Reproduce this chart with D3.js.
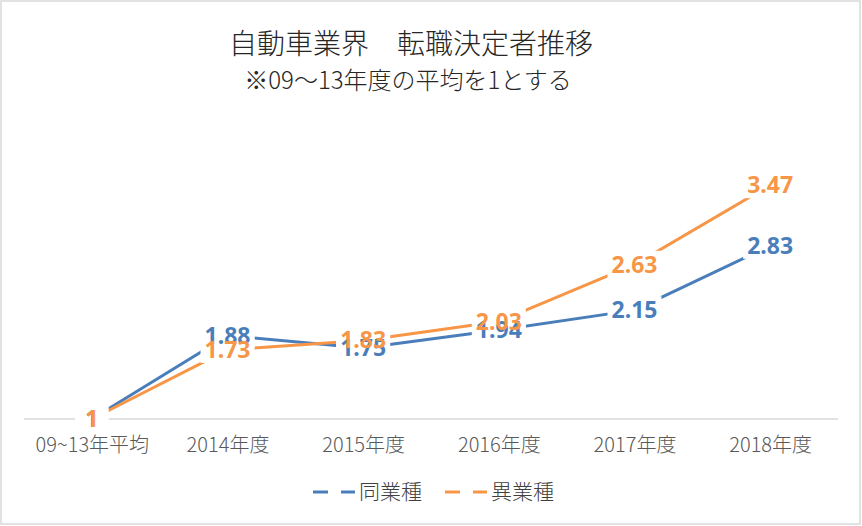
<!DOCTYPE html>
<html>
<head>
<meta charset="utf-8">
<script src="https://cdn.jsdelivr.net/npm/d3@7"></script>
<style>
  body { margin: 0; background: #fff; }
  svg { display: block; font-family: "Noto Sans CJK JP", "Noto Sans", sans-serif; }
</style>
</head>
<body>
<svg width="862" height="526"></svg>
<script>
const categories = ["09~13年平均", "2014年度", "2015年度", "2016年度", "2017年度", "2018年度"];
const sameIndustry = [1, 1.88, 1.75, 1.94, 2.15, 2.83];
const otherIndustry = [1, 1.73, 1.83, 2.03, 2.63, 3.47];
const seriesNames = ["同業種", "異業種"];
const colors = ["#4a7ebb", "#f79646"];

const svg = d3.select("svg"),
      width = +svg.attr("width"),
      height = +svg.attr("height");

// chart frame
svg.append("rect")
  .attr("x", 1).attr("y", 1)
  .attr("width", width - 3).attr("height", height - 3)
  .attr("fill", "#fff")
  .attr("stroke", "#d9d9d9")
  .attr("stroke-width", 1.5);

svg.append("text")
  .attr("x", 411).attr("y", 44)
  .attr("dy", "0.35em")
  .attr("text-anchor", "middle")
  .attr("font-size", 28)
  .attr("font-weight", 300)
  .attr("fill", "#262626")
  .text("自動車業界　転職決定者推移");

svg.append("text")
  .attr("x", 408).attr("y", 81)
  .attr("dy", "0.35em")
  .attr("text-anchor", "middle")
  .attr("font-size", 24)
  .attr("font-weight", 300)
  .attr("fill", "#262626")
  .text("※09～13年度の平均を1とする");

const x = d3.scalePoint()
  .domain(categories)
  .range([24, 838])
  .padding(0.5);

const y = d3.scaleLinear()
  .domain([1, 4])
  .range([419, 135]);

// category axis
const xAxis = svg.append("g")
  .attr("transform", `translate(0,${y(1)})`)
  .call(d3.axisBottom(x).tickSize(0).tickPadding(19));
xAxis.select(".domain")
  .attr("d", `M${x.range()[0]},0H${x.range()[1]}`)
  .attr("stroke", "#d9d9d9")
  .attr("stroke-width", 1.5);
xAxis.selectAll("text")
  .attr("font-family", "'Noto Sans CJK JP', sans-serif")
  .attr("font-size", 20)
  .attr("font-weight", 300)
  .attr("fill", "#595959");

const series = [sameIndustry, otherIndustry].map((vals, i) => ({
  name: seriesNames[i],
  color: colors[i],
  points: vals.map((v, j) => ({cat: categories[j], v}))
}));

const line = d3.line()
  .x(d => x(d.cat))
  .y(d => y(d.v));

svg.append("g")
  .selectAll("path")
  .data(series)
  .join("path")
  .attr("d", d => line(d.points))
  .attr("fill", "none")
  .attr("stroke", d => d.color)
  .attr("stroke-width", 3)
  .attr("stroke-linejoin", "round");

// data labels: white boxes first, then text on top
const labelData = series.flatMap(s => s.points.map(p => ({...p, color: s.color})));
const boxes = svg.append("g");
const labels = svg.append("g")
  .selectAll("text")
  .data(labelData)
  .join("text")
  .attr("x", d => x(d.cat))
  .attr("y", d => y(d.v))
  .attr("dy", "0.35em")
  .attr("text-anchor", "middle")
  .attr("font-family", "'Noto Sans', sans-serif")
  .attr("font-weight", "bold")
  .attr("font-size", 23)
  .attr("fill", d => d.color)
  .text(d => d.v);

labels.each(function () {
  const b = this.getBBox();
  const padX = b.width < 20 ? 10 : 4;
  boxes.append("rect")
    .attr("x", b.x - padX).attr("y", b.y + 3)
    .attr("width", b.width + padX * 2).attr("height", b.height - 5)
    .attr("fill", "#fff");
});

// legend
const legend = svg.append("g")
  .selectAll("g")
  .data(series)
  .join("g")
  .attr("transform", (d, i) => `translate(${313 + i * 132},492)`);
legend.append("line")
  .attr("x1", 0).attr("x2", 42)
  .attr("stroke", d => d.color)
  .attr("stroke-width", 3)
  .attr("stroke-dasharray", "15,13");
legend.append("text")
  .attr("x", 46)
  .attr("dy", "0.35em")
  .attr("font-size", 21)
  .attr("font-weight", 300)
  .attr("fill", "#404040")
  .text(d => d.name);
</script>
</body>
</html>
